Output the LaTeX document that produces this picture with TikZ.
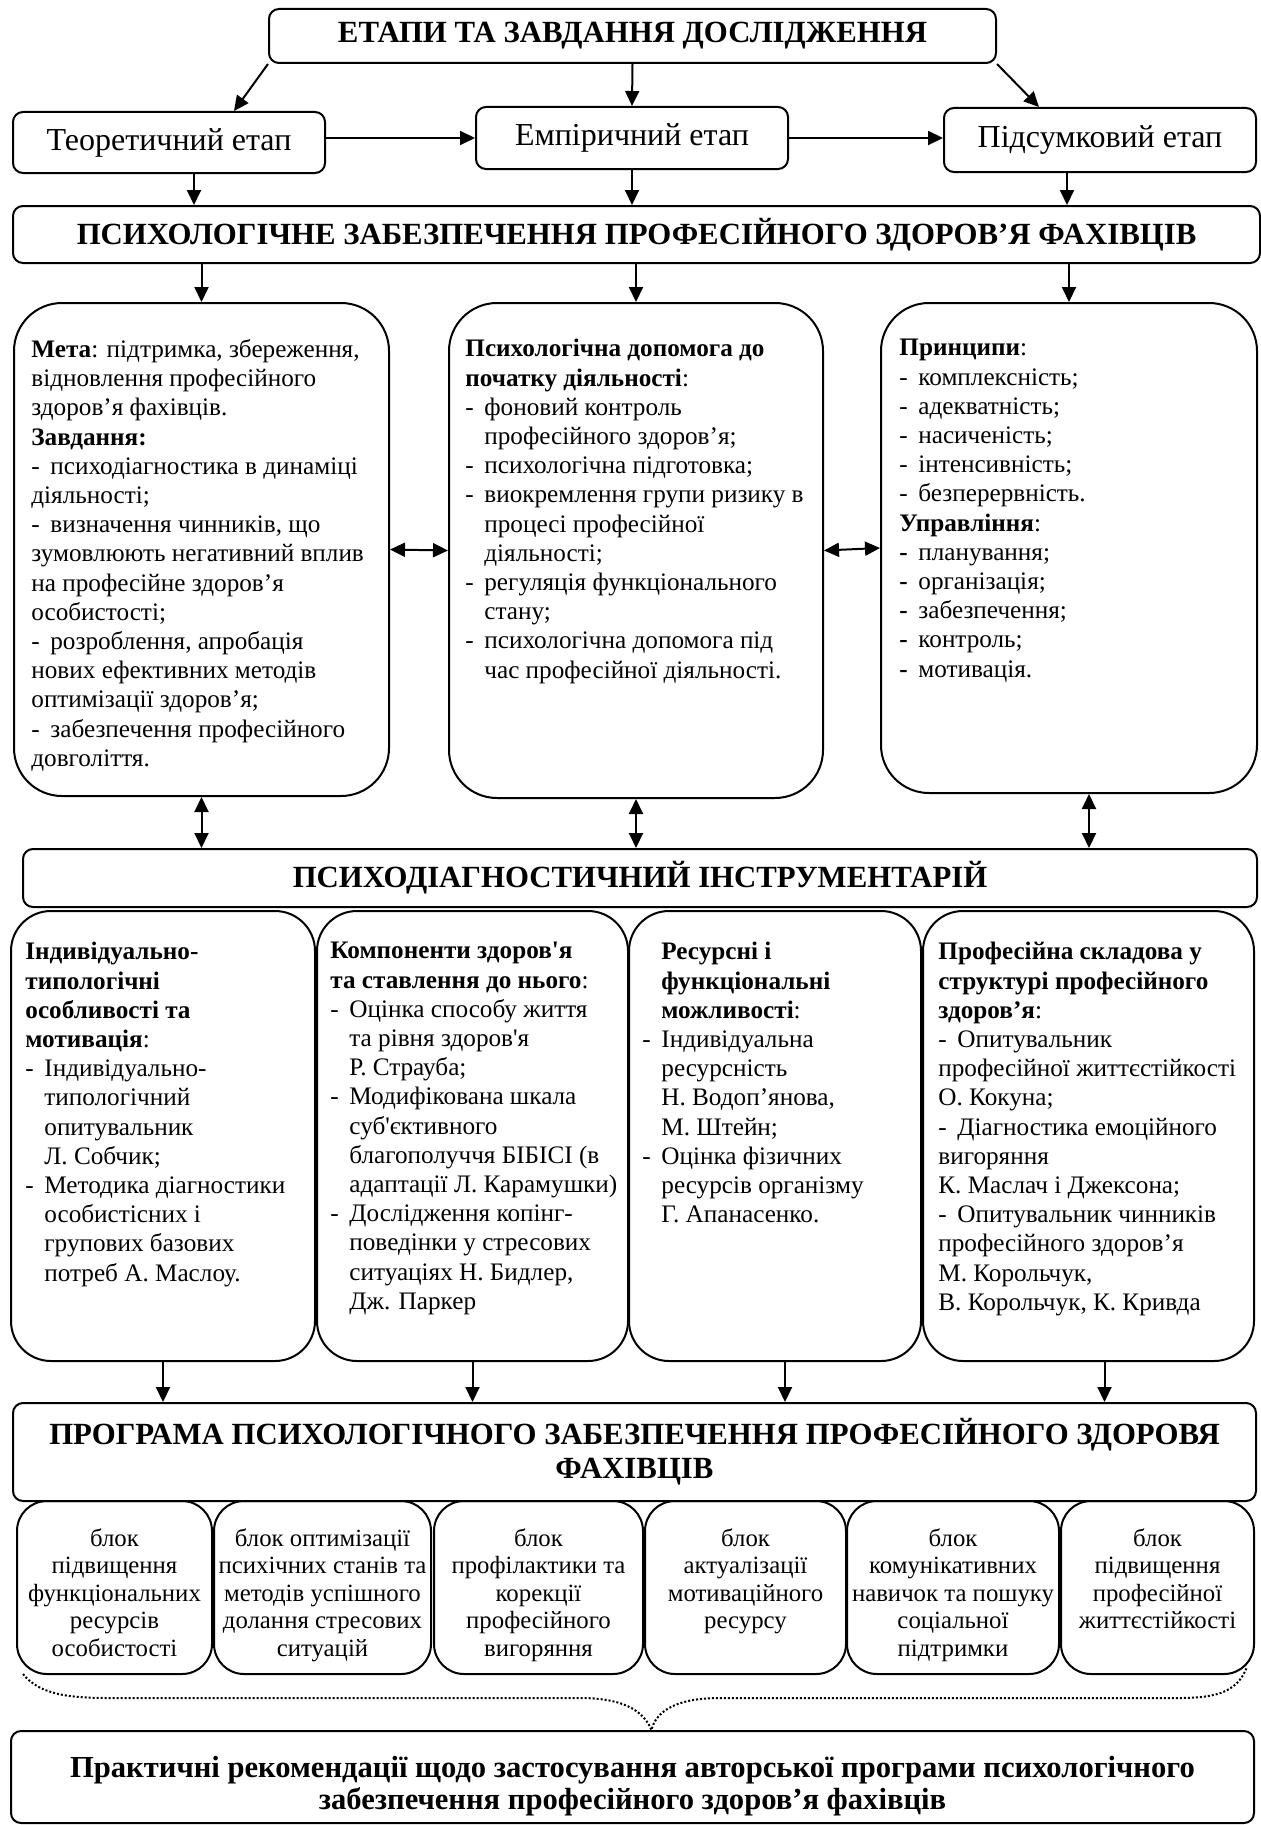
\documentclass[tikz,border=0pt]{standalone}
\usepackage{fontspec}
\setmainfont{Liberation Serif}[Ligatures=TeXOff]
\usetikzlibrary{arrows.meta}

\newdimen\pxu \pxu=0.5pt
\newcommand{\itemdash}{\makebox[9.5pt][l]{-}}
\newcommand{\bolddash}{\makebox[9.5pt][l]{\textbf{-}}}
\newcommand{\itemgap}{\hspace*{9.5pt}}

\tikzset{
  arr/.style={-{Triangle[length=7.5pt,width=7pt]}, line width=1pt},
  darr/.style={{Triangle[length=7.5pt,width=7pt]}-{Triangle[length=7.5pt,width=7pt]}, line width=1pt},
  plainbox/.style={draw, line width=1pt, anchor=north west, inner sep=0pt},
  headbox/.style={plainbox, rounded corners=5pt, align=center, font=\fontsize{15.4}{17}\selectfont\bfseries},
  stagebox/.style={plainbox, rounded corners=5pt, font=\fontsize{16}{18}\selectfont},
  bigbox/.style={plainbox, rounded corners=24pt},
  toolbox/.style={plainbox, rounded corners=20pt},
  blockbox/.style={plainbox, rounded corners=15pt},
  headtext/.style={inner sep=0pt, align=center, font=\fontsize{15.3}{15.7}\selectfont\bfseries},
  boxtext/.style={anchor=north west, inner sep=0pt, align=left, font=\fontsize{12.6}{14.6}\selectfont},
  blocktext/.style={anchor=north, inner sep=0pt, align=center, font=\fontsize{12.4}{13.75}\selectfont},
}

\begin{document}
\begin{tikzpicture}[x=0.5pt,y=-0.5pt]
    \useasboundingbox (0,0) rectangle (1261,1825);

    % stages
    \node[headbox, minimum width=727*\pxu, minimum height=54*\pxu] (title) at (268,8)
        {ЕТАПИ ТА ЗАВДАННЯ ДОСЛІДЖЕННЯ};
    \node[stagebox, minimum width=312*\pxu, minimum height=61*\pxu] (theor) at (12,111) {Теоретичний етап};
    \node[stagebox, minimum width=312*\pxu, minimum height=62*\pxu] (emp) at (475,106) {Емпіричний етап};
    \node[stagebox, minimum width=312*\pxu, minimum height=64*\pxu] (summ) at (943,107) {Підсумковий етап};
    \node[headbox, minimum width=1247*\pxu, minimum height=57*\pxu] (psych) at (12,205)
        {ПСИХОЛОГІЧНЕ ЗАБЕЗПЕЧЕННЯ ПРОФЕСІЙНОГО ЗДОРОВ’Я ФАХІВЦІВ};

    \draw[arr] (title.south west) -- ([shift={(65,0)}]theor.north);
    \draw[arr] (title.south) -- (emp.north);
    \draw[arr] (title.south east) -- ([shift={(-61,0)}]summ.north);
    \draw[arr] (theor.east |- emp.west) -- (emp.west);
    \draw[arr] (emp.east) -- (emp.east -| summ.west);

    \coordinate (t1) at ([shift={(25,0)}]theor.south);
    \coordinate (t3) at ([shift={(-33,0)}]summ.south);
    \draw[arr] (t1) -- (t1 |- psych.north);
    \draw[arr] (emp.south) -- (emp.south |- psych.north);
    \draw[arr] (t3) -- (t3 |- psych.north);

    % goal, help, principles
    \node[bigbox, minimum width=375*\pxu, minimum height=493*\pxu] (goal) at (13,302) {};
    \node[bigbox, minimum width=374*\pxu, minimum height=495*\pxu] (help) at (448,302) {};
    \node[bigbox, minimum width=376*\pxu, minimum height=490*\pxu] (princ) at (880,302) {};

    \node[boxtext] (goaltext) at ([shift={(18,37)}]goal.north west) {%
        \textbf{Мета}: підтримка, збереження,\\
        відновлення професійного\\
        здоров’я фахівців.\\
        \textbf{Завдання:}\\
        \itemdash психодіагностика в динаміці\\
        діяльності;\\
        \itemdash визначення чинників, що\\
        зумовлюють негативний вплив\\
        на професійне здоров’я\\
        особистості;\\
        \itemdash розроблення, апробація\\
        нових ефективних методів\\
        оптимізації здоров’я;\\
        \itemdash забезпечення професійного\\
        довголіття.};
    \node[boxtext] (helptext) at ([shift={(17,37)}]help.north west) {%
        \textbf{Психологічна допомога до}\\
        \textbf{початку діяльності}:\\
        \itemdash фоновий контроль\\
        \itemgap професійного здоров’я;\\
        \itemdash психологічна підготовка;\\
        \itemdash виокремлення групи ризику в\\
        \itemgap процесі професійної\\
        \itemgap діяльності;\\
        \itemdash регуляція функціонального\\
        \itemgap стану;\\
        \itemdash психологічна допомога під\\
        \itemgap час професійної діяльності.};
    \node[boxtext] (princtext) at ([shift={(19,37)}]princ.north west) {%
        \textbf{Принципи}:\\
        \itemdash комплексність;\\
        \itemdash адекватність;\\
        \itemdash насиченість;\\
        \itemdash інтенсивність;\\
        \itemdash безперервність.\\
        \textbf{Управління}:\\
        \bolddash планування;\\
        \bolddash організація;\\
        \bolddash забезпечення;\\
        \bolddash контроль;\\
        \bolddash мотивація.};

    \draw[arr] (goal.north |- psych.south) -- (goal.north);
    \draw[arr] (help.north |- psych.south) -- (help.north);
    \draw[arr] (princ.north |- psych.south) -- (princ.north);
    \draw[darr] (goal.east) -- (help.west);
    \draw[darr] (help.east) -- (princ.west);

    % diagnostic tools
    \node[headbox, minimum width=1234*\pxu, minimum height=58*\pxu] (diag) at (22,848)
        {ПСИХОДІАГНОСТИЧНИЙ ІНСТРУМЕНТАРІЙ};
    \coordinate (p3) at ([shift={(20,0)}]princ.south);
    \draw[darr] (goal.south) -- (goal.south |- diag.north);
    \draw[darr] (help.south) -- (help.south |- diag.north);
    \draw[darr] (p3) -- (p3 |- diag.north);

    \node[toolbox, minimum width=304*\pxu, minimum height=450*\pxu] (ind) at (10,910) {};
    \node[toolbox, minimum width=311*\pxu, minimum height=450*\pxu] (comp) at (316,910) {};
    \node[toolbox, minimum width=292*\pxu, minimum height=450*\pxu] (res) at (628,910) {};
    \node[toolbox, minimum width=331*\pxu, minimum height=450*\pxu] (prof) at (922,910) {};

    \node[boxtext] (indtext) at ([shift={(15,32)}]ind.north west) {%
        \textbf{Індивідуально-}\\
        \textbf{типологічні}\\
        \textbf{особливості та}\\
        \textbf{мотивація}:\\
        \itemdash Індивідуально-\\
        \itemgap типологічний\\
        \itemgap опитувальник\\
        \itemgap Л. Собчик;\\
        \itemdash Методика діагностики\\
        \itemgap особистісних і\\
        \itemgap групових базових\\
        \itemgap потреб А. Маслоу.};
    \node[boxtext] (comptext) at ([shift={(14,32)}]comp.north west) {%
        \textbf{Компоненти здоров'я}\\
        \textbf{та ставлення до нього}:\\
        \itemdash Оцінка способу життя\\
        \itemgap та рівня здоров'я\\
        \itemgap Р. Страуба;\\
        \itemdash Модифікована шкала\\
        \itemgap суб'єктивного\\
        \itemgap благополуччя БІБІСІ (в\\
        \itemgap адаптації Л. Карамушки)\\
        \itemdash Дослідження копінг-\\
        \itemgap поведінки у стресових\\
        \itemgap ситуаціях Н. Бидлер,\\
        \itemgap Дж. Паркер};
    \node[boxtext] (restext) at ([shift={(14,32)}]res.north west) {%
        \itemgap\textbf{Ресурсні і}\\
        \itemgap\textbf{функціональні}\\
        \itemgap\textbf{можливості}:\\
        \itemdash Індивідуальна\\
        \itemgap ресурсність\\
        \itemgap Н. Водоп’янова,\\
        \itemgap М. Штейн;\\
        \itemdash Оцінка фізичних\\
        \itemgap ресурсів організму\\
        \itemgap Г. Апанасенко.};
    \node[boxtext] (proftext) at ([shift={(16,32)}]prof.north west) {%
        \textbf{Професійна складова у}\\
        \textbf{структурі професійного}\\
        \textbf{здоров’я}:\\
        \itemdash Опитувальник\\
        професійної життєстійкості\\
        О. Кокуна;\\
        \itemdash Діагностика емоційного\\
        вигоряння\\
        К. Маслач і Джексона;\\
        \itemdash Опитувальник чинників\\
        професійного здоров’я\\
        М. Корольчук,\\
        В. Корольчук, К. Кривда};

    % program
    \node[headbox, minimum width=1243*\pxu, minimum height=98*\pxu] (prog) at (12,1402)
        {ПРОГРАМА ПСИХОЛОГІЧНОГО ЗАБЕЗПЕЧЕННЯ ПРОФЕСІЙНОГО ЗДОРОВЯ\\ФАХІВЦІВ};
    \coordinate (r3) at ([shift={(10,0)}]res.south);
    \coordinate (r4) at ([shift={(16,0)}]prof.south);
    \draw[arr] (ind.south) -- (ind.south |- prog.north);
    \draw[arr] (comp.south) -- (comp.south |- prog.north);
    \draw[arr] (r3) -- (r3 |- prog.north);
    \draw[arr] (r4) -- (r4 |- prog.north);

    \node[blockbox, minimum width=195*\pxu, minimum height=173*\pxu] (b1) at (16,1500) {};
    \node[blockbox, minimum width=217*\pxu, minimum height=173*\pxu] (b2) at (213,1500) {};
    \node[blockbox, minimum width=209*\pxu, minimum height=173*\pxu] (b3) at (433,1500) {};
    \node[blockbox, minimum width=201*\pxu, minimum height=173*\pxu] (b4) at (644,1500) {};
    \node[blockbox, minimum width=212*\pxu, minimum height=173*\pxu] (b5) at (846,1500) {};
    \node[blockbox, minimum width=193*\pxu, minimum height=173*\pxu] (b6) at (1060,1500) {};

    \node[blocktext] (b1text) at ([shift={(0,28)}]b1.north)
        {блок\\підвищення\\функціональних\\ресурсів\\особистості};
    \node[blocktext] (b2text) at ([shift={(0,28)}]b2.north)
        {блок оптимізації\\психічних станів та\\методів успішного\\долання стресових\\ситуацій};
    \node[blocktext] (b3text) at ([shift={(0,28)}]b3.north)
        {блок\\профілактики та\\корекції\\професійного\\вигоряння};
    \node[blocktext] (b4text) at ([shift={(0,28)}]b4.north)
        {блок\\актуалізації\\мотиваційного\\ресурсу};
    \node[blocktext] (b5text) at ([shift={(0,28)}]b5.north)
        {блок\\комунікативних\\навичок та пошуку\\соціальної\\підтримки};
    \node[blocktext] (b6text) at ([shift={(0,28)}]b6.north)
        {блок\\підвищення\\професійної\\життєстійкості};

    % recommendations
    \node[headbox, minimum width=1243*\pxu, minimum height=92*\pxu] (final) at (10,1730) {};
    \node[headtext] (finaltext) at ([shift={(0,9)}]final.center)
        {Практичні рекомендації щодо застосування авторської програми психологічного\\
         забезпечення професійного здоров’я фахівців};

    \draw[line width=1pt, dash pattern=on 1pt off 1pt]
        ([shift={(7,-1)}]b1.south west) .. controls (40,1695) and (70,1698) .. (110,1698)
        -- (580,1698) .. controls (630,1698) and (645,1715) .. ([shift={(19,0)}]final.north)
        .. controls (655,1715) and (670,1698) .. (720,1698)
        -- (1180,1698) .. controls (1220,1698) and (1238,1690) .. ([shift={(-8,-8)}]b6.south east);
\end{tikzpicture}
\end{document}
